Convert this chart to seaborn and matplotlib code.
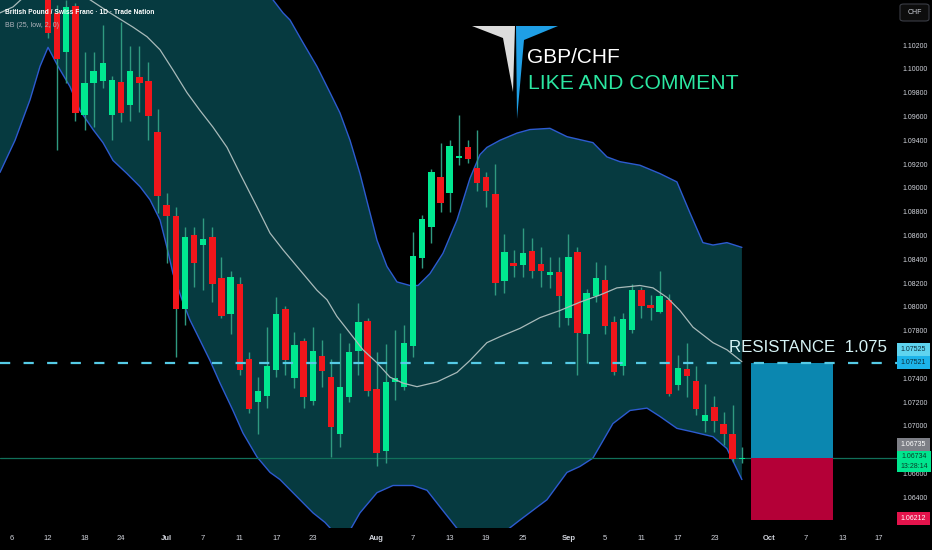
import numpy as np
import matplotlib
matplotlib.use("Agg")
import matplotlib.pyplot as plt
import seaborn as sns
from matplotlib.patches import Polygon, Rectangle, FancyBboxPatch

# daily candles, left to right (GBP/CHF)
opens = [1.1066, 1.1047, 1.1014, 1.1053, 1.0961, 1.0988, 1.0990, 1.0961, 1.0989, 1.0970,
         1.0993, 1.0990, 1.0947, 1.0886, 1.0876, 1.0798, 1.0860, 1.0852, 1.0859, 1.0824,
         1.0794, 1.0819, 1.0756, 1.0720, 1.0725, 1.0747, 1.0798, 1.0740, 1.0771, 1.0721,
         1.0759, 1.0741, 1.0693, 1.0724, 1.0763, 1.0788, 1.0731, 1.0679, 1.0737, 1.0733,
         1.0767, 1.0841, 1.0867, 1.0909, 1.0896, 1.0925, 1.0934, 1.0917, 1.0909, 1.0895,
         1.0822, 1.0837, 1.0835, 1.0847, 1.0836, 1.0827, 1.0829, 1.0791, 1.0846, 1.0777,
         1.0809, 1.0823, 1.0787, 1.0750, 1.0781, 1.0814, 1.0802, 1.0796, 1.0806, 1.0734,
         1.0748, 1.0738, 1.0704, 1.0716, 1.0702, 1.0693, 1.0672]
highs = [1.1071, 1.1054, 1.1058, 1.1055, 1.1014, 1.1014, 1.1037, 1.0994, 1.1039, 1.1019,
         1.1019, 1.1006, 1.0966, 1.0896, 1.0884, 1.0867, 1.0867, 1.0875, 1.0867, 1.0842,
         1.0830, 1.0825, 1.0762, 1.0741, 1.0783, 1.0808, 1.0801, 1.0779, 1.0774, 1.0783,
         1.0772, 1.0756, 1.0778, 1.0770, 1.0803, 1.0791, 1.0762, 1.0769, 1.0781, 1.0785,
         1.0863, 1.0877, 1.0916, 1.0938, 1.0940, 1.0961, 1.0940, 1.0949, 1.0913, 1.0920,
         1.0861, 1.0848, 1.0866, 1.0858, 1.0850, 1.0842, 1.0842, 1.0861, 1.0850, 1.0815,
         1.0838, 1.0835, 1.0792, 1.0795, 1.0819, 1.0817, 1.0810, 1.0830, 1.0811, 1.0760,
         1.0770, 1.0750, 1.0735, 1.0725, 1.0712, 1.0718, 1.0682]
lows = [1.1026, 1.0932, 1.0988, 1.0956, 1.0949, 1.0951, 1.0984, 1.0940, 1.0955, 1.0956,
        1.0964, 1.0940, 1.0879, 1.0837, 1.0758, 1.0785, 1.0817, 1.0814, 1.0804, 1.0791,
        1.0777, 1.0743, 1.0711, 1.0693, 1.0715, 1.0741, 1.0743, 1.0732, 1.0715, 1.0718,
        1.0733, 1.0674, 1.0682, 1.0720, 1.0743, 1.0725, 1.0666, 1.0669, 1.0722, 1.0730,
        1.0758, 1.0833, 1.0854, 1.0880, 1.0880, 1.0919, 1.0921, 1.0897, 1.0884, 1.0810,
        1.0812, 1.0825, 1.0825, 1.0824, 1.0817, 1.0816, 1.0783, 1.0785, 1.0743, 1.0753,
        1.0804, 1.0777, 1.0743, 1.0743, 1.0778, 1.0791, 1.0789, 1.0795, 1.0725, 1.0730,
        1.0724, 1.0709, 1.0695, 1.0695, 1.0684, 1.0670, 1.0669]
closes = [1.1030, 1.1008, 1.1052, 1.0963, 1.0988, 1.0998, 1.1005, 1.0991, 1.0963, 1.0998,
          1.0988, 1.0960, 1.0893, 1.0876, 1.0798, 1.0859, 1.0837, 1.0857, 1.0819, 1.0792,
          1.0825, 1.0747, 1.0714, 1.0729, 1.0750, 1.0794, 1.0755, 1.0768, 1.0724, 1.0763,
          1.0746, 1.0699, 1.0733, 1.0762, 1.0787, 1.0729, 1.0677, 1.0737, 1.0740, 1.0770,
          1.0843, 1.0874, 1.0913, 1.0887, 1.0935, 1.0927, 1.0924, 1.0904, 1.0897, 1.0820,
          1.0846, 1.0834, 1.0845, 1.0830, 1.0830, 1.0829, 1.0809, 1.0842, 1.0778, 1.0812,
          1.0824, 1.0784, 1.0745, 1.0790, 1.0814, 1.0801, 1.0799, 1.0809, 1.0727, 1.0749,
          1.0742, 1.0714, 1.0709, 1.0704, 1.0693, 1.0672, 1.06735]

# Bollinger band (25, low, 2), x in bar units
upper_x = [-5.26, 0.0, 5.70, 12.27, 16.65, 21.03, 23.22, 24.64, 25.74, 26.51, 27.93, 29.46,
           30.89, 31.98, 33.08, 34.17, 35.27, 36.04, 37.13, 38.23, 39.65, 40.53, 41.84, 43.26,
           44.80, 46.22, 47.32, 48.08, 49.51, 51.37, 52.79, 54.98, 56.85, 59.69, 61.23, 62.65,
           64.84, 67.03, 68.89, 70.32, 71.74, 72.84, 74.37, 76.01]
upper = [1.1184, 1.1167, 1.1163, 1.1159, 1.1142, 1.1108, 1.1079, 1.1058, 1.1047, 1.1041,
         1.1022, 1.1002, 1.0980, 1.0963, 1.0940, 1.0912, 1.0879, 1.0856, 1.0834, 1.0821,
         1.0818, 1.0818, 1.0828, 1.0845, 1.0873, 1.0908, 1.0928, 1.0934, 1.0940, 1.0946,
         1.0949, 1.0950, 1.0943, 1.0938, 1.0926, 1.0922, 1.0919, 1.0912, 1.0905, 1.0879,
         1.0854, 1.0852, 1.0854, 1.0850]
lower_x = [-5.26, -3.61, -1.97, -0.88, 0.0, 1.10, 2.41, 3.50, 4.93, 6.02, 7.12, 8.65, 10.08,
           11.17, 12.27, 13.03, 13.69, 14.68, 15.55, 16.65, 17.74, 18.84, 20.26, 21.36, 22.89,
           24.32, 25.41, 26.83, 29.03, 30.34, 31.65, 32.75, 34.17, 36.04, 37.79, 39.98, 41.51,
           42.94, 44.80, 46.22, 47.86, 49.51, 51.70, 54.65, 56.85, 58.27, 59.69, 61.88, 63.75,
           65.61, 67.03, 68.89, 70.65, 72.84, 74.37, 76.01]
lower = [1.0913, 1.0940, 1.0974, 1.1002, 1.1018, 1.1002, 1.0985, 1.0965, 1.0949, 1.0938,
         1.0923, 1.0912, 1.0901, 1.0890, 1.0873, 1.0850, 1.0828, 1.0806, 1.0789, 1.0772,
         1.0755, 1.0736, 1.0713, 1.0694, 1.0674, 1.0661, 1.0655, 1.0644, 1.0627, 1.0619,
         1.0608, 1.0608, 1.0627, 1.0644, 1.0650, 1.0650, 1.0646, 1.0632, 1.0614, 1.0600,
         1.0597, 1.0608, 1.0621, 1.0638, 1.0661, 1.0666, 1.0673, 1.0702, 1.0713, 1.0715,
         1.0708, 1.0698, 1.0695, 1.0691, 1.0681, 1.0655]
basis_x = [-5.26, -3.83, -1.97, 0.77, 2.96, 4.60, 6.79, 9.31, 10.84, 12.27, 13.69, 15.22,
           16.65, 18.07, 19.61, 21.03, 22.89, 24.32, 25.74, 27.27, 29.46, 30.56, 31.65, 33.08,
           34.50, 36.04, 37.46, 38.88, 40.42, 42.61, 44.80, 46.22, 48.08, 49.51, 51.70, 53.89,
           56.08, 58.27, 60.46, 62.32, 64.84, 66.27, 67.80, 69.22, 70.65, 72.84, 74.37, 76.01]
basis = [1.1047, 1.1052, 1.1065, 1.1070, 1.1065, 1.1058, 1.1047, 1.1035, 1.1027, 1.1016,
         1.0999, 1.0980, 1.0965, 1.0951, 1.0934, 1.0912, 1.0884, 1.0862, 1.0848, 1.0834,
         1.0814, 1.0806, 1.0792, 1.0778, 1.0764, 1.0753, 1.0741, 1.0736, 1.0733, 1.0737,
         1.0745, 1.0755, 1.0770, 1.0775, 1.0782, 1.0791, 1.0797, 1.0804, 1.0810, 1.0816,
         1.0818, 1.0816, 1.0808, 1.0797, 1.0783, 1.0770, 1.0764, 1.0754]

date_pos = [-4, 0, 4, 8, 13, 17, 21, 25, 29, 36, 40, 44, 48, 52, 57, 61, 65, 69, 73, 79, 83, 87, 91]
date_labels = ['6', '12', '18', '24', 'Jul', '7', '11', '17', '23', 'Aug', '7', '13', '19',
               '25', 'Sep', '5', '11', '17', '23', 'Oct', '7', '13', '17']
months = ['Jul', 'Aug', 'Sep', 'Oct']
price_ticks = [1.102, 1.100, 1.098, 1.096, 1.094, 1.092, 1.090, 1.088, 1.086, 1.084, 1.082,
               1.080, 1.078, 1.076, 1.074, 1.072, 1.070, 1.068, 1.066, 1.064]

resistance = 1.07525
entry = 1.06735
stop = 1.06212
pos_start, pos_end = 77, 86

sns.set_style("dark", {"axes.facecolor": "black", "figure.facecolor": "black"})
plt.rcParams['font.family'] = ['Liberation Sans', 'DejaVu Sans']

W, H = 932, 550
fig = plt.figure(figsize=(W / 100, H / 100), dpi=100)
ax = fig.add_axes([0, 22 / H, 897 / W, 528 / H])
ax.set_facecolor('black')


def fx(px):
    return px / W


def fy(py):
    return 1 - py / H


# band background
ax.fill(upper_x + lower_x[::-1], upper + lower[::-1], color='#063a40', lw=0, zorder=1)
sns.lineplot(x=upper_x, y=upper, ax=ax, color='#2d5bd0', lw=1, sort=False, estimator=None, zorder=2)
sns.lineplot(x=lower_x, y=lower, ax=ax, color='#2d5bd0', lw=1, sort=False, estimator=None, zorder=2)

# last price line
ax.axhline(entry, color='#11705a', lw=0.9, zorder=2)

# candles
o, h, l, c = map(np.array, (opens, highs, lows, closes))
x = np.arange(len(o))
up = c >= o
ax.vlines(x, l, h, colors='#2f9a80', lw=1, zorder=3)
body_h = np.maximum(np.abs(c - o), 0.00009)
ax.bar(x, body_h, bottom=np.minimum(o, c), width=0.7,
       color=np.where(up, '#00e890', '#f2161b'), lw=0, zorder=4)

sns.lineplot(x=basis_x, y=basis, ax=ax, color='#a9baba', lw=0.9, sort=False, estimator=None, zorder=5)

# long position tool
ax.add_patch(Rectangle((pos_start, entry), pos_end - pos_start, resistance - entry,
                       color='#0b87b0', lw=0, zorder=3))
ax.add_patch(Rectangle((pos_start, stop), pos_end - pos_start, entry - stop,
                       color='#b40037', lw=0, zorder=3))

# resistance line
ax.axhline(resistance, color='#55cbe6', lw=1.6, ls=(0, (4.6, 6.0)), zorder=6)
ax.annotate('RESISTANCE  1.075', xy=(74.6, resistance), xytext=(0, 8),
            textcoords='offset points', va='baseline', ha='left',
            fontsize=12.2, color='#d6f3f5', zorder=7)

ax.set_xlim(-5.26, 93.0)
ax.set_ylim(1.06143, 1.10578)
ax.grid(False)
for s in ax.spines.values():
    s.set_visible(False)

ax.set_xticks(date_pos, date_labels)
ax.tick_params(axis='x', length=0, pad=5, labelsize=5.5, labelcolor='#d1d4dc')
for t in ax.get_xticklabels():
    if t.get_text() in months:
        t.set_fontweight('bold')

ax.yaxis.tick_right()
ax.set_yticks(price_ticks, [f'{v:.5f}' for v in price_ticks])
ax.tick_params(axis='y', length=0, pad=4, labelsize=5, labelcolor='#d1d4dc')
ax.set_xlabel('')
ax.set_ylabel('')


def price_box(x0, y0, x1, y1, fc, text, tc, fs=5):
    fig.add_artist(Rectangle((fx(x0), fy(y1)), fx(x1) - fx(x0), fy(y0) - fy(y1),
                             transform=fig.transFigure, fc=fc, ec='none', zorder=10))
    fig.text(fx((x0 + x1) / 2), fy((y0 + y1) / 2), text, ha='center', va='center',
             fontsize=fs, color=tc, zorder=11, linespacing=1.4)


price_box(897, 343, 930, 356, '#5fd4ef', '1.07525', '#0a2f3d')
price_box(897, 356, 930, 369, '#1db4ea', '1.07521', '#0a2f3d')
price_box(897, 438, 930, 451, '#7d7f86', '1.06735', 'white')
price_box(897, 451, 931, 472, '#00e58e', '1.06734\n13:28:14', '#0a3d29')
price_box(897, 512, 930, 525, '#e3134b', '1.06212', 'white')

fig.add_artist(FancyBboxPatch((fx(900), fy(21)), fx(929) - fx(900), fy(4) - fy(21),
                              boxstyle='round,pad=0,rounding_size=0.004',
                              transform=fig.transFigure, fc='#0d0d0d', ec='#3a3d45', lw=0.8))
fig.text(fx(914.5), fy(12.5), 'CHF', ha='center', va='center', fontsize=5, color='#d1d4dc')

# header
fig.text(fx(5), fy(12.5), 'British Pound / Swiss Franc · 1D · Trade Nation', va='center',
         fontsize=4.8, weight='bold', color='white')
fig.text(fx(5), fy(25.5), 'BB (25, low, 2, 0)', va='center', fontsize=5, color='#b2b5be')

# logo + caption
white_blade = [(472, 26), (515, 26), (513, 92), (503, 38)]
blue_blade = [(516, 26), (558, 26), (524, 40), (517, 119)]
fig.add_artist(Polygon([(fx(a), fy(b)) for a, b in white_blade], closed=True,
                       transform=fig.transFigure, fc='#dcdcdc', ec='none'))
fig.add_artist(Polygon([(fx(a), fy(b)) for a, b in blue_blade], closed=True,
                       transform=fig.transFigure, fc='#1f9fe6', ec='none'))
fig.text(fx(527), fy(63), 'GBP/CHF', va='baseline', fontsize=15, color='white')
fig.text(fx(528), fy(89), 'LIKE AND COMMENT', va='baseline', fontsize=15.2, color='#2be6a1')

fig.savefig('out.png', dpi=100, facecolor='black')
